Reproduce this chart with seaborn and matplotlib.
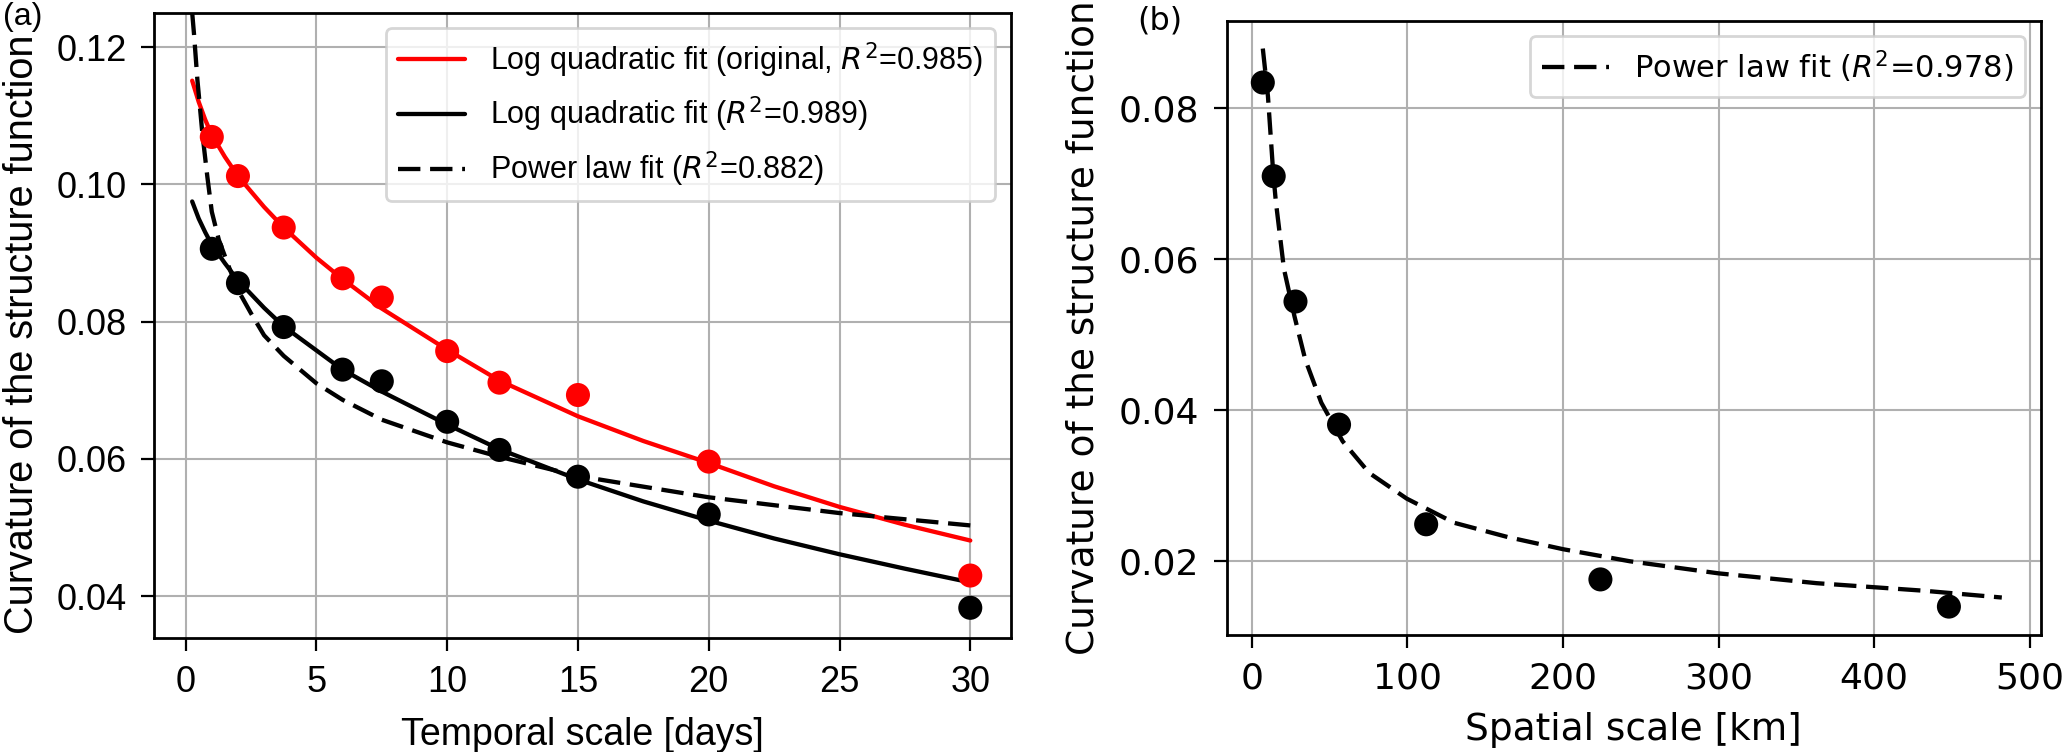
import numpy as np
import pandas as pd
import seaborn as sns
import matplotlib.pyplot as plt

# panel (a): temporal scale
days = [1, 2, 3.75, 6, 7.5, 10, 12, 15, 20, 30]
curv_original = [0.1069, 0.1012, 0.0937, 0.0863, 0.0835, 0.0757, 0.0711, 0.0693, 0.0596, 0.0430]
curv_corrected = [0.0906, 0.0856, 0.0792, 0.0730, 0.0713, 0.0654, 0.0613, 0.0574, 0.0519, 0.0383]

fit_days = [0.25, 0.5, 0.75, 1, 1.5, 2, 3, 3.75, 5, 6, 7.5, 10, 12, 15, 17.5, 20, 22.5, 25, 27.5, 30]
logq_original = [0.1151, 0.1120, 0.1094, 0.1072, 0.1040, 0.1012, 0.0967, 0.0937, 0.0893, 0.0862,
                 0.0819, 0.0759, 0.0714, 0.0662, 0.0626, 0.0594, 0.0560, 0.0530, 0.0504, 0.0481]
logq_corrected = [0.0975, 0.0950, 0.0930, 0.0912, 0.0885, 0.0860, 0.0820, 0.0793, 0.0758, 0.0730,
                  0.0698, 0.0650, 0.0614, 0.0570, 0.0538, 0.0510, 0.0484, 0.0461, 0.0440, 0.0420]

pow_days = [0.25, 0.32, 0.45, 0.64, 0.83, 1.0, 1.27, 1.65, 2.0, 2.5, 3.0, 3.75, 5, 6, 7.5, 10, 12, 15, 20, 25, 30]
pow_temporal = [0.1250, 0.1219, 0.1152, 0.1074, 0.1011, 0.0960, 0.0919, 0.0880, 0.0846, 0.0812, 0.0780,
                0.0750, 0.0710, 0.0686, 0.0657, 0.0624, 0.0603, 0.0575, 0.0544, 0.0521, 0.0503]

# panel (b): spatial scale
km = [7, 14, 28, 56, 112, 224, 448]
curv_spatial = [0.0834, 0.0710, 0.0544, 0.0381, 0.0249, 0.0176, 0.0140]

pow_km = [7, 10.3, 13.7, 15.4, 20.6, 27.4, 34.3, 44.6, 58.3, 75.4, 99.5, 130, 164.6, 200, 243, 300, 363, 432, 482]
pow_spatial = [0.0879, 0.0816, 0.0714, 0.0676, 0.0587, 0.0524, 0.0467, 0.0410, 0.0359, 0.0317,
               0.0283, 0.0251, 0.0232, 0.0216, 0.0200, 0.0184, 0.0171, 0.0161, 0.0152]

sns.set_theme(style="ticks")
plt.rcParams.update({
    "axes.edgecolor": "black",
    "axes.linewidth": 2.0,
    "xtick.color": "black",
    "ytick.color": "black",
    "axes.labelcolor": "black",
    "text.color": "black",
    "legend.edgecolor": "0.8",
})
plt.rcParams["font.family"] = ["DejaVu Sans"]

fig = plt.figure(figsize=(20.67, 7.52), dpi=100)
ax1 = fig.add_axes([0.0745, 0.1516, 0.4144, 0.8315])
ax2 = fig.add_axes([0.5934, 0.1562, 0.3938, 0.8164])

arial = "Liberation Sans"
dash = (0, (5.2, 2.25))
lw = 3.1

# ---- left panel
sns.lineplot(x=fit_days, y=logq_original, ax=ax1, color="red", lw=lw,
             label="Log quadratic fit (original, $R^2$=0.985)")
sns.lineplot(x=fit_days, y=logq_corrected, ax=ax1, color="black", lw=lw,
             label="Log quadratic fit ($R^2$=0.989)")
sns.lineplot(x=pow_days, y=pow_temporal, ax=ax1, color="black", lw=lw, linestyle=dash,
             label="Power law fit ($R^2$=0.882)")
sns.scatterplot(x=days, y=curv_original, ax=ax1, color="red", s=300, edgecolor="none",
                zorder=3, legend=False)
sns.scatterplot(x=days, y=curv_corrected, ax=ax1, color="black", s=300, edgecolor="none",
                zorder=3, legend=False)

ax1.set_xlim(-1.21, 31.54)
ax1.set_ylim(0.0339, 0.125)
ax1.set_xticks([0, 5, 10, 15, 20, 25, 30])
ax1.set_yticks([0.04, 0.06, 0.08, 0.10, 0.12])
ax1.set_yticklabels(["0.04", "0.06", "0.08", "0.10", "0.12"])
ax1.set_xlabel("Temporal scale [days]", fontsize=27, family=arial, labelpad=12)
ax1.set_ylabel("Curvature of the structure function", fontsize=28.5, family=arial)
ax1.yaxis.set_label_coords(-0.132, 0.486)
for lab in ax1.get_xticklabels() + ax1.get_yticklabels():
    lab.set_family(arial)
ax1.tick_params(labelsize=26, length=9.5, width=1.6, pad=10, direction="out")
ax1.grid(True, color="#b0b0b0", lw=1.5)
leg1 = ax1.legend(loc="upper right", prop={"family": arial, "size": 22}, framealpha=0.8,
                  handlelength=2.2)
leg1.get_frame().set_linewidth(2)

# ---- right panel
sns.lineplot(x=pow_km, y=pow_spatial, ax=ax2, color="black", lw=lw, linestyle=dash,
             label="Power law fit ($R^2$=0.978)")
sns.scatterplot(x=km, y=curv_spatial, ax=ax2, color="black", s=300, edgecolor="none",
                zorder=3, legend=False)

ax2.set_xlim(-16.3, 506.9)
ax2.set_ylim(0.0103, 0.0916)
ax2.set_xticks([0, 100, 200, 300, 400, 500])
ax2.set_yticks([0.02, 0.04, 0.06, 0.08])
ax2.set_yticklabels(["0.02", "0.04", "0.06", "0.08"])
ax2.set_xlabel("Spatial scale [km]", fontsize=27, labelpad=12)
ax2.set_ylabel("Curvature of the structure function", fontsize=27)
ax2.yaxis.set_label_coords(-0.1536, 0.5)
ax2.tick_params(labelsize=26, length=9.5, width=1.6, pad=10, direction="out")
ax2.grid(True, color="#b0b0b0", lw=1.5)
leg2 = ax2.legend(loc="upper right", prop={"size": 22}, framealpha=0.8, handlelength=2.2)
leg2.get_frame().set_linewidth(2)

fig.text(0.0015, 0.997, "(a)", fontsize=23, family=arial, va="top", ha="left")
fig.text(0.550, 0.993, "(b)", fontsize=23, va="top", ha="left")

fig.savefig("out.png", dpi=100)
